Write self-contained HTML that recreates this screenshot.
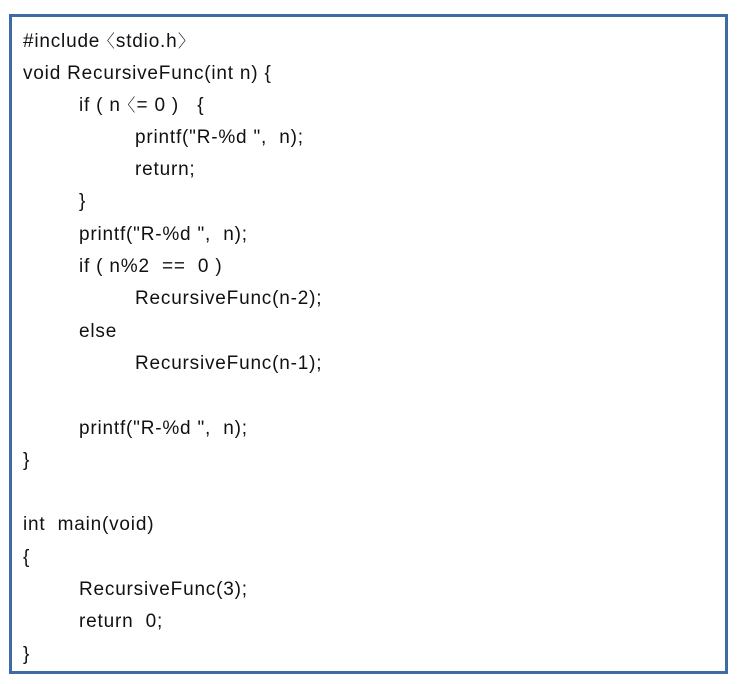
<!DOCTYPE html>
<html><head><meta charset="utf-8"><style>
html,body{margin:0;padding:0;background:#fff;width:740px;height:684px;overflow:hidden}
.box{position:absolute;left:9px;top:14px;width:713px;height:654px;border:3px solid #3f6aa3}
.l{position:absolute;font-family:"Liberation Sans","NanumGothic","Noto Sans CJK KR",sans-serif;font-size:19px;letter-spacing:0.8px;color:#111;white-space:pre;line-height:20px;margin-top:2px}
</style></head><body>
<div class="box"></div>
<div class="l" style="left:23px;top:30px">#include 〈stdio.h〉</div>
<div class="l" style="left:23px;top:62px">void RecursiveFunc(int n) {</div>
<div class="l" style="left:79px;top:94px">if ( n 〈= 0 )   {</div>
<div class="l" style="left:135px;top:126px">printf("R-%d ",  n);</div>
<div class="l" style="left:135px;top:158px">return;</div>
<div class="l" style="left:79px;top:190px">}</div>
<div class="l" style="left:79px;top:223px">printf("R-%d ",  n);</div>
<div class="l" style="left:79px;top:255px">if ( n%2  ==  0 )</div>
<div class="l" style="left:135px;top:287px">RecursiveFunc(n-2);</div>
<div class="l" style="left:79px;top:320px">else</div>
<div class="l" style="left:135px;top:352px">RecursiveFunc(n-1);</div>
<div class="l" style="left:79px;top:417px">printf("R-%d ",  n);</div>
<div class="l" style="left:23px;top:449px">}</div>
<div class="l" style="left:23px;top:513px">int  main(void)</div>
<div class="l" style="left:23px;top:546px">{</div>
<div class="l" style="left:79px;top:578px">RecursiveFunc(3);</div>
<div class="l" style="left:79px;top:610px">return  0;</div>
<div class="l" style="left:23px;top:643px">}</div>
</body></html>
